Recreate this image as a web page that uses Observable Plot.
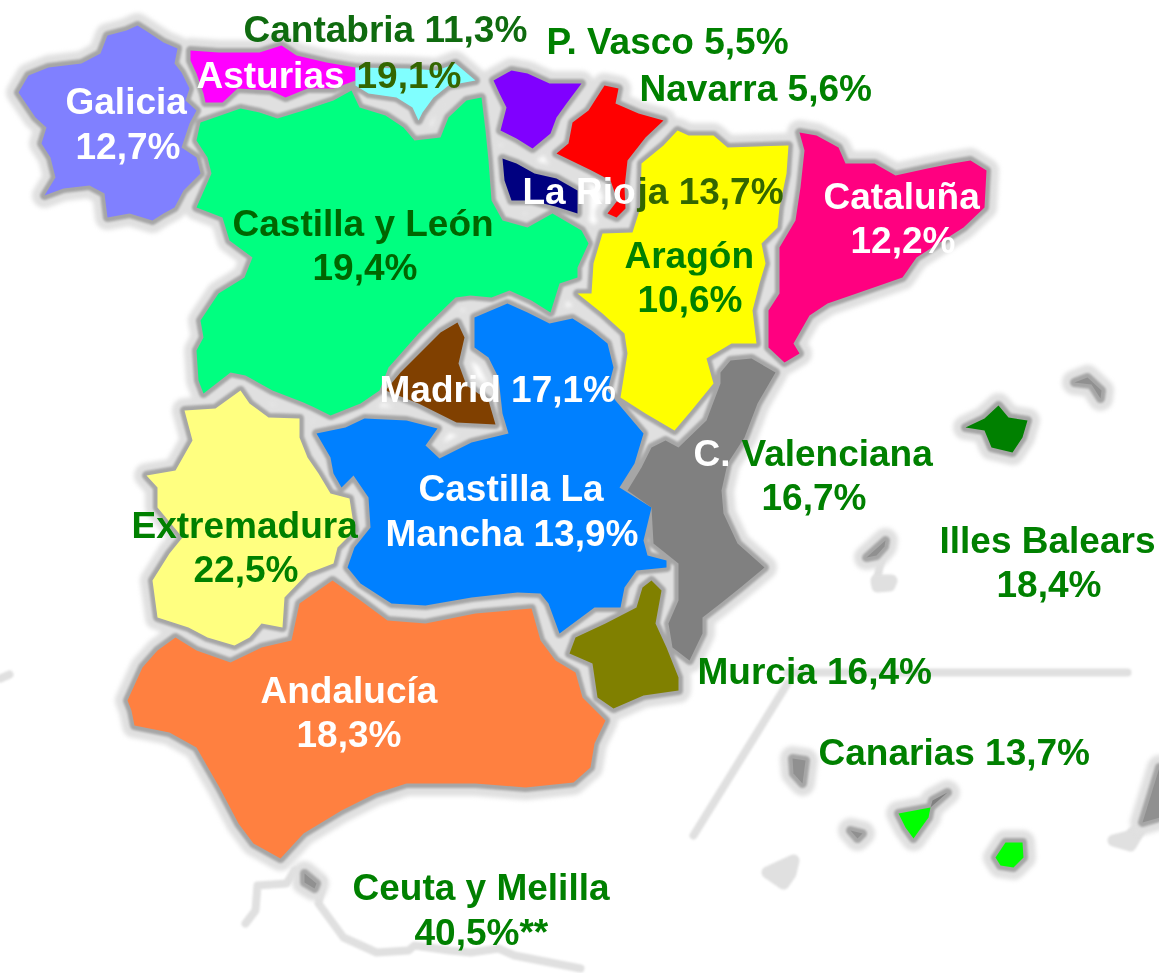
<!DOCTYPE html>
<html>
<head>
<meta charset="utf-8">
<style>
html,body{margin:0;padding:0;background:#fff;}
svg{display:block;}
</style>
<script src="https://cdn.jsdelivr.net/npm/d3@7"></script>
<script src="https://cdn.jsdelivr.net/npm/@observablehq/plot@0.6"></script>
</head>
<body>
<div id="chart"></div>
<script>
// Region outlines [x, y]
const galicia=[[137,25],[148,32],[163,42],[177,48],[174,63],[181,72],[189,88],[185,100],[196,110],[189,123],[181,147],[196,157],[200,173],[183,190],[174,207],[163,213],[152,220],[129,213],[107,217],[104,193],[89,185],[63,188],[44,195],[55,177],[50,157],[41,143],[46,127],[35,117],[18,92],[28,75],[48,67],[81,63],[100,53],[107,35],[126,30]];
const asturias=[[190,50],[218,52],[259,52],[281,45],[296,55],[326,62],[355,67],[355,80],[333,88],[307,88],[285,97],[270,90],[237,88],[222,102],[205,102],[203,93],[196,73],[190,60]];
const cantabria=[[355,67],[407,68],[437,70],[455,63],[475,80],[448,85],[433,97],[422,112],[418,120],[412,107],[396,97],[368,93],[355,85]];
const castillaLeon=[[200,122],[240,108],[259,112],[277,118],[303,110],[333,100],[351,90],[359,107],[385,115],[403,127],[414,140],[440,137],[448,117],[466,100],[481,97],[485,130],[488,160],[491,200],[502,220],[527,227],[552,213],[581,230],[588,243],[577,267],[577,277],[559,283],[550,312],[531,300],[509,290],[491,297],[470,295],[455,297],[418,333],[388,367],[379,390],[360,403],[330,415],[314,407],[303,402],[272,390],[245,375],[230,372],[203,393],[198,380],[196,350],[203,337],[200,320],[218,293],[244,277],[252,257],[229,240],[222,217],[196,207],[211,173],[207,157],[196,140]];
const paisVasco=[[493,80],[511,70],[527,73],[549,83],[581,83],[566,103],[556,117],[550,133],[532,148],[516,138],[500,130],[506,107],[499,93]];
const navarra=[[604,85],[618,88],[615,103],[638,113],[663,120],[645,137],[627,160],[624,187],[625,208],[616,217],[607,213],[617,200],[610,180],[591,170],[556,153],[568,143],[572,122],[588,110]];
const rioja=[[502,158],[516,163],[534,173],[556,178],[577,190],[577,213],[555,206],[531,200],[511,200],[504,180]];
const aragon=[[677,130],[688,135],[713,135],[727,147],[788,145],[786,173],[779,207],[777,227],[761,243],[765,263],[759,283],[752,310],[756,343],[731,343],[706,358],[713,383],[691,410],[674,430],[645,413],[620,397],[627,353],[624,333],[602,313],[577,293],[591,293],[593,263],[602,233],[632,232],[640,207],[641,163],[663,145]];
const cataluna=[[799,132],[816,135],[838,147],[845,163],[874,163],[895,175],[927,168],[952,163],[970,160],[986,170],[984,207],[963,227],[916,257],[902,277],[856,293],[827,303],[809,315],[793,343],[799,353],[784,362],[768,347],[768,310],[779,293],[779,247],[795,220],[800,187],[804,150]];
const madrid=[[457,322],[464,337],[458,363],[466,385],[488,400],[495,424],[456,422],[418,403],[385,390],[400,372],[420,352],[440,332]];
const mancha=[[474,317],[507,303],[527,312],[549,323],[572,318],[591,330],[607,343],[613,367],[607,390],[615,400],[643,433],[634,463],[619,487],[651,507],[643,540],[647,555],[666,560],[666,567],[636,570],[624,587],[620,607],[594,607],[559,633],[548,603],[540,593],[517,592],[471,597],[425,605],[391,603],[360,583],[347,567],[354,547],[370,527],[368,497],[353,475],[341,487],[333,473],[330,457],[316,433],[345,427],[364,418],[406,420],[437,428],[425,445],[439,458],[471,442],[508,433],[502,413],[498,377],[488,357],[474,347]];
const extremadura=[[240,390],[249,403],[268,417],[299,418],[299,437],[307,457],[318,473],[330,493],[349,498],[354,530],[337,547],[333,563],[307,573],[284,597],[282,627],[261,623],[249,637],[234,645],[207,637],[188,627],[157,617],[152,580],[169,553],[182,537],[157,507],[157,487],[146,475],[175,470],[192,440],[184,410],[215,408]];
const andalucia=[[127,700],[142,667],[157,650],[175,637],[196,650],[230,662],[261,647],[291,640],[299,603],[332,580],[360,600],[387,620],[425,623],[475,613],[531,608],[540,640],[555,660],[575,672],[582,697],[605,720],[594,743],[590,767],[573,782],[525,787],[475,783],[406,783],[375,793],[341,810],[303,833],[280,858],[253,843],[238,823],[219,787],[196,747],[169,732],[134,725],[131,710]];
const murcia=[[651,580],[661,590],[655,623],[666,647],[678,677],[678,690],[643,695],[613,708],[597,697],[592,663],[569,653],[575,637],[605,623],[636,607],[642,587]];
const valencia=[[730,360],[751,358],[775,372],[757,403],[744,437],[727,463],[721,490],[723,513],[737,543],[764,567],[740,587],[720,603],[702,617],[702,633],[689,660],[672,647],[668,623],[678,600],[678,563],[653,543],[651,507],[627,490],[641,467],[651,447],[665,440],[678,447],[706,420],[720,383],[720,372]];
const mallorca=[[965,427],[984,418],[998,405],[1008,417],[1027,420],[1022,437],[1012,452],[991,447],[984,430]];
const menorca=[[1074,382],[1087,377],[1101,390],[1100,398],[1091,384]];
const ibiza=[[866,557],[885,540],[884,546],[876,555]];
const laPalma=[[792,758],[805,760],[802,783],[793,773]];
const tenerife=[[898,813],[930,807],[928,817],[913,838],[905,827]];
const tenerifeTail=[[930,807],[947,792],[932,800]];
const gomera=[[850,830],[862,833],[857,838]];
const granCanaria=[[1005,842],[1022,842],[1023,857],[1013,867],[1000,865],[995,857]];
const fuerteventura=[[1159,767],[1142,822],[1159,817]];
const ceuta=[[304,873],[316,883],[314,888],[304,882]];
// Faint open coast and frame lines
const canaryTop=[[787,672],[1127,672]];
const canaryDiag=[[787,683],[693,835]];
const africaWest=[[245,923],[255,910],[257,885],[286,883],[294,870]];
const africaEast=[[322,880],[318,903],[343,937],[376,952],[408,950],[414,945],[449,950],[470,952],[498,948],[514,955],[580,968]];
const leftEdge=[[0,678],[9,674]];
const ibizaLink=[[881,557],[876,582]];
// Faint islands with no core
const formentera=[[876,580],[891,580],[889,585],[877,586]];
const hierro=[[767,872],[793,860],[790,873],[783,883]];
const lanzarote=[[1113,840],[1130,845],[1142,825],[1128,836]];

const regionNames=["Galicia","Asturias","Cantabria","Castilla y León","P. Vasco","Navarra","La Rioja","Aragón","Cataluña","Madrid","Castilla La Mancha","Extremadura","Andalucía","Murcia","C. Valenciana","Mallorca","Menorca","Ibiza","La Palma","Tenerife","Tenerife norte","La Gomera","Gran Canaria","Fuerteventura","Ceuta"];
const regionShapes=[galicia,asturias,cantabria,castillaLeon,paisVasco,navarra,rioja,aragon,cataluna,madrid,mancha,extremadura,andalucia,murcia,valencia,mallorca,menorca,ibiza,laPalma,tenerife,tenerifeTail,gomera,granCanaria,fuerteventura,ceuta];
const regionColors=["#8080ff","#ff00ff","#80ffff","#00ff80","#8000ff","#ff0000","#000080","#ffff00","#ff0080","#804000","#0080ff","#ffff80","#ff8040","#808000","#808080","#008000","#909090","#909090","#909090","#00ff00","#808080","#909090","#00ff00","#909090","#909090"];
const coastShapes=[canaryTop,canaryDiag,africaWest,africaEast,leftEdge,ibizaLink];
const blobShapes=[formentera,hierro,lanzarote];

// Label texts and their colours
const labelTexts=["Cantabria 11,3%","P. Vasco 5,5%","Navarra 5,6%","Asturias","19,1%","Galicia","12,7%","La Rio","ja 13,7%","Cataluña","12,2%","Castilla y León","19,4%","Aragón","10,6%","Madrid 17,1%","C.","Valenciana","16,7%","Castilla La","Mancha 13,9%","Extremadura","22,5%","Illes Balears","18,4%","Murcia 16,4%","Andalucía","18,3%","Canarias 13,7%","Ceuta y Melilla","40,5%**"];
const labelColors=["#0f6b0f","#008000","#008000","#ffffff","#336600","#ffffff","#ffffff","#ffffff","#336600","#ffffff","#ffffff","#006600","#006600","#008000","#008000","#ffffff","#ffffff","#008000","#008000","#ffffff","#ffffff","#008000","#008000","#008000","#008000","#008000","#ffffff","#ffffff","#008000","#008000","#008000"];
const labelX=[243,546,639,196,356,65,75,522,637,823,850,232,312,624,637,379,693,741,761,418,385,131,193,939,996,697,260,296,818,352,414];
const labelY=[41,53,100,87,87,113,158,203,203,208,252,235,279,267,311,401,465,465,509,500,545,537,581,552,596,683,702,746,764,899,944];

const regionRows=regionShapes.flatMap((s,i)=>s.map(([x,y])=>({name:regionNames[i],color:regionColors[i],x,y})));
const coastRows=coastShapes.flatMap((s,i)=>s.map(([x,y])=>({line:i,x,y})));
const blobRows=blobShapes.flatMap((s,i)=>s.map(([x,y])=>({blob:i,x,y})));
const labelRows=labelTexts.map((text,i)=>({text,color:labelColors[i],x:labelX[i],y:labelY[i]}));

const chart=Plot.plot({
  width:1159,height:973,margin:0,
  style:{background:"#fff"},
  x:{domain:[0,1159],axis:null},
  y:{domain:[973,0],axis:null},
  color:{type:"identity"},
  marks:[
    Plot.line(coastRows,{x:"x",y:"y",z:"line",stroke:"#e0e0e0",strokeWidth:8,strokeLinejoin:"round",strokeLinecap:"round",imageFilter:"blur(1.2px)"}),
    Plot.line(blobRows,{x:"x",y:"y",z:"blob",curve:"linear-closed",fill:"#e0e0e0",stroke:"#e0e0e0",strokeWidth:12,strokeLinejoin:"round",imageFilter:"blur(1.2px)"}),
    Plot.line(regionRows,{x:"x",y:"y",z:"name",curve:"linear-closed",fill:"#e0e0e0",stroke:"#e0e0e0",strokeWidth:25,strokeLinejoin:"round",imageFilter:"blur(2px)"}),
    Plot.line(regionRows,{x:"x",y:"y",z:"name",curve:"linear-closed",fill:"#a6a6a6",stroke:"#a6a6a6",strokeWidth:9,strokeLinejoin:"round",imageFilter:"blur(1.2px)"}),
    Plot.line(regionRows,{x:"x",y:"y",z:"name",curve:"linear-closed",fill:"color",stroke:"none"}),
    Plot.text(labelRows,{x:"x",y:"y",text:"text",fill:"color",textAnchor:"start",lineAnchor:"bottom",fontSize:37,fontWeight:"bold",fontFamily:"Liberation Sans, Arial, sans-serif",imageFilter:"blur(0.35px)"})
  ]
});
document.getElementById("chart").appendChild(chart);
</script>
</body>
</html>
